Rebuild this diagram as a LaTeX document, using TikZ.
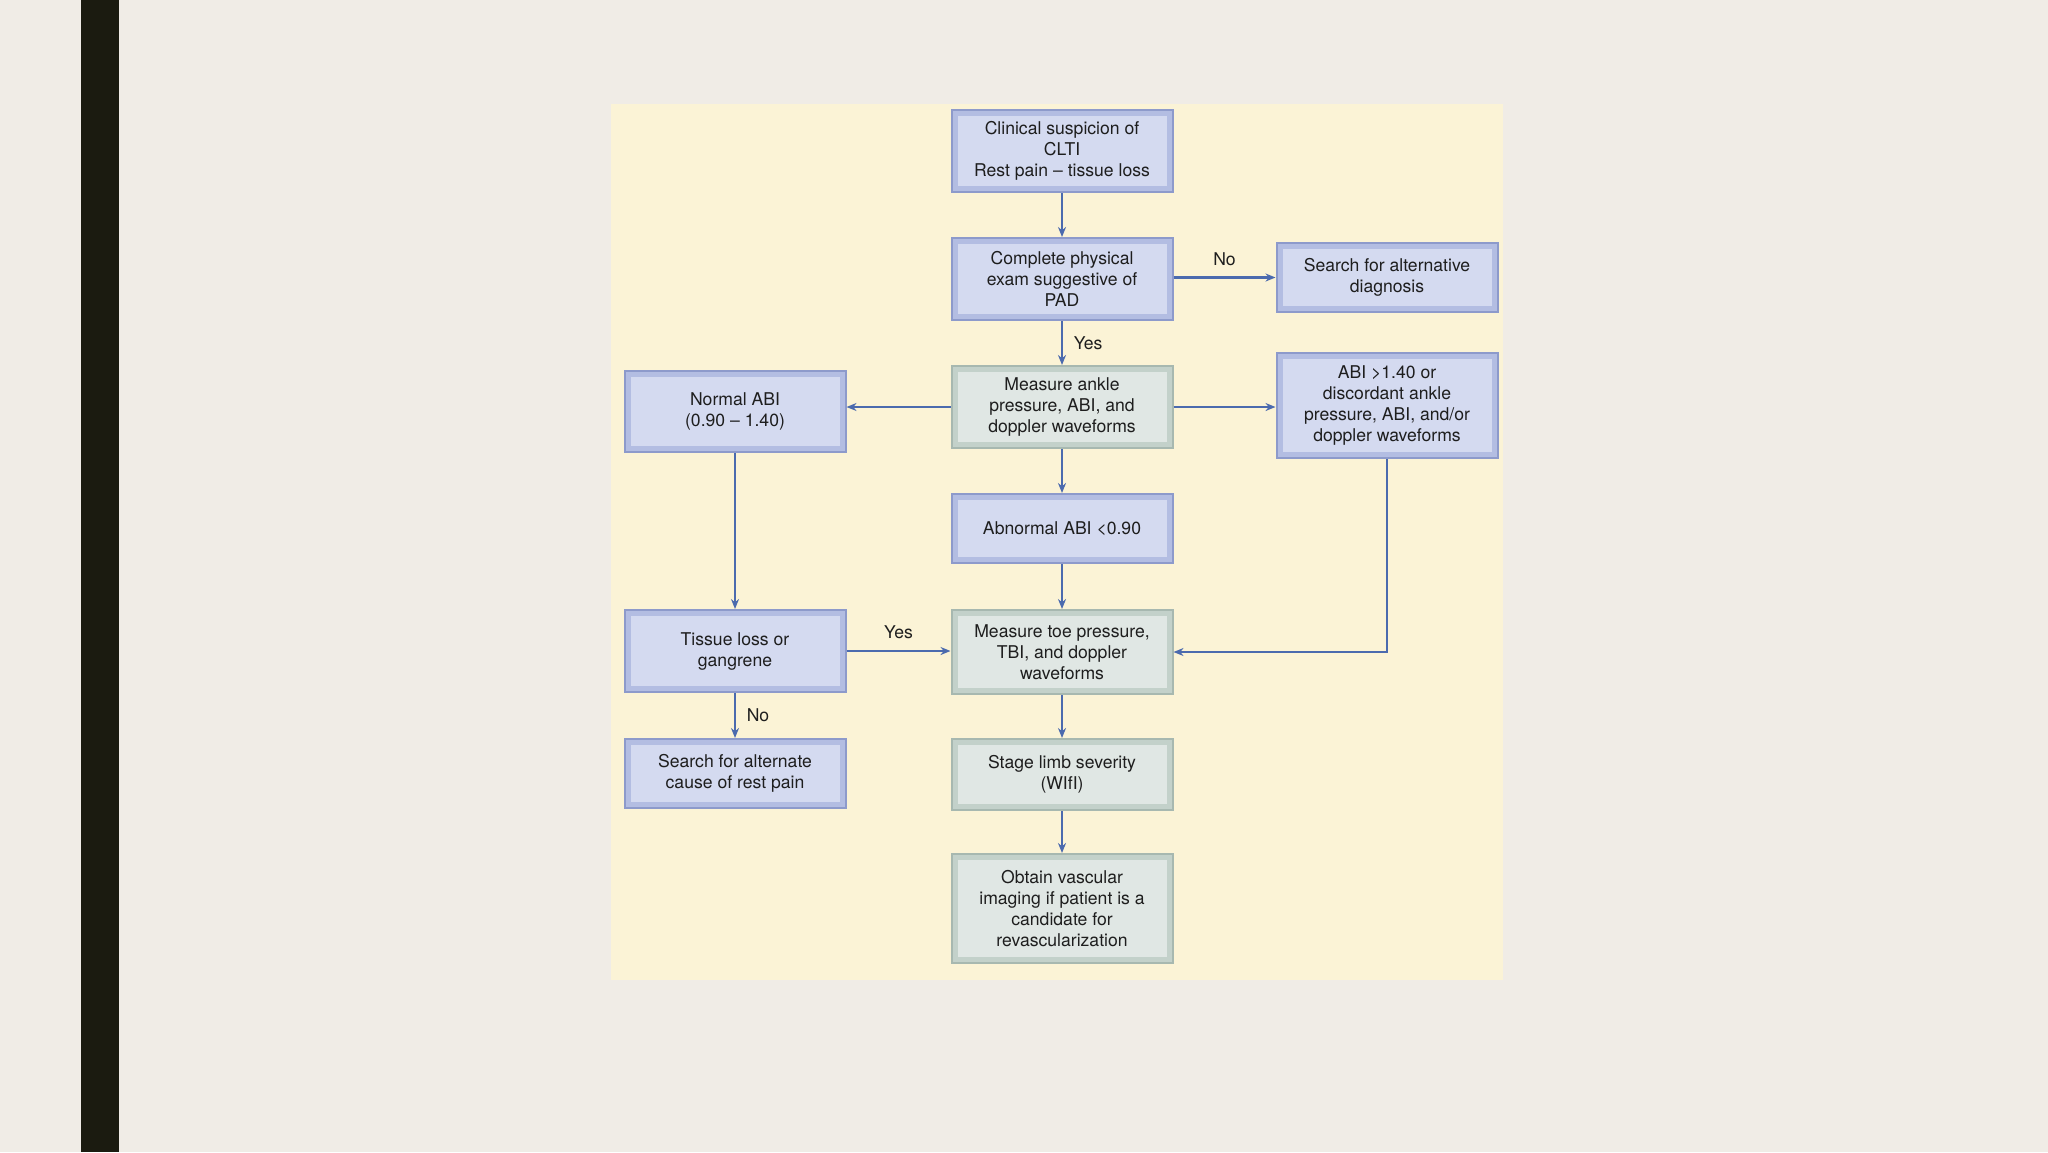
\documentclass[tikz,border=0pt]{standalone}
\usepackage{fontspec}
\setmainfont{TeX Gyre Heros}
\usetikzlibrary{arrows.meta}

\definecolor{pagebg}{HTML}{F0ECE6}
\definecolor{barcol}{HTML}{1B1B10}
\definecolor{panel}{HTML}{FBF3D6}
\definecolor{bluefill}{HTML}{D4DAF0}
\definecolor{blueside}{HTML}{B3BDE2}
\definecolor{blueedge}{HTML}{8D9ACB}
\definecolor{greyfill}{HTML}{E0E7E4}
\definecolor{greyside}{HTML}{C3D1CA}
\definecolor{greyedge}{HTML}{A7B8B0}
\definecolor{linkcol}{HTML}{4B6AAE}
\definecolor{txtcol}{HTML}{1E1E1E}

\newcommand*{\colL}{735}
\newcommand*{\colM}{1062}
\newcommand*{\colR}{1387}

\tikzset{
	box/.style={line width=1pt, minimum width=110.5pt, align=center,
		font=\fontsize{8.8}{10.5}\selectfont, text=txtcol, inner sep=2pt},
	bluebox/.style={box, draw=blueedge, fill=blueside,
		path picture={\fill[bluefill] ([shift={(3pt,-3pt)}]path picture bounding box.north west)
			rectangle ([shift={(-3pt,3pt)}]path picture bounding box.south east);}},
	greybox/.style={box, draw=greyedge, fill=greyside,
		path picture={\fill[greyfill] ([shift={(3pt,-3pt)}]path picture bounding box.north west)
			rectangle ([shift={(-3pt,3pt)}]path picture bounding box.south east);}},
	link/.style={draw=linkcol, line width=1.1pt, -{Stealth[length=5pt,width=4pt]}},
	answer/.style={font=\fontsize{8.8}{10.5}\selectfont, text=txtcol}
}

\begin{document}
\begin{tikzpicture}[x=0.5pt,y=-0.5pt]
	\useasboundingbox (0,0) rectangle (2048,1152);
	\fill[pagebg] (0,0) rectangle (2048,1152);
	\fill[barcol] (81,0) rectangle (119,1152);
	\fill[panel] (611,104) rectangle (1503,980);
	
	% centre column
	\node[bluebox, minimum height=41pt] (suspicion) at (\colM,151) {Clinical suspicion of\\CLTI\\Rest pain -- tissue loss};
	\node[bluebox, minimum height=41pt] (exam) at (\colM,279) {Complete physical\\exam suggestive of\\PAD};
	\node[greybox, minimum height=41pt] (ankle) at (\colM,407) {Measure ankle\\pressure, ABI, and\\doppler waveforms};
	\node[bluebox, minimum height=34.5pt] (abnormal) at (\colM,528.5) {Abnormal ABI <0.90};
	\node[greybox, minimum height=42pt] (toe) at (\colM,652) {Measure toe pressure,\\TBI, and doppler\\waveforms};
	\node[greybox, minimum height=35.5pt] (stage) at (\colM,774.5) {Stage limb severity\\(WIfI)};
	\node[greybox, minimum height=54.5pt] (imaging) at (\colM,908.5) {Obtain vascular\\imaging if patient is a\\candidate for\\revascularization};
	
	% left column
	\node[bluebox, minimum height=40.5pt] (normal) at (\colL,411.5) {Normal ABI\\(0.90 -- 1.40)};
	\node[bluebox, minimum height=41pt] (tissue) at (\colL,651) {Tissue loss or\\gangrene};
	\node[bluebox, minimum height=34.5pt] (restpain) at (\colL,773.5) {Search for alternate\\cause of rest pain};
	
	% right column
	\node[bluebox, minimum height=34.5pt] (altdiag) at (\colR,277.5) {Search for alternative\\diagnosis};
	\node[bluebox, minimum height=52.5pt] (discord) at (\colR,405.5) {ABI >1.40 or\\discordant ankle\\pressure, ABI, and/or\\doppler waveforms};
	
	\draw[link] (suspicion) -- (exam);
	\draw[link] (exam) -- node[answer, right=2pt] {Yes} (ankle);
	\draw[link] (exam.east |- altdiag) -- node[answer, above=2pt] {No} (altdiag);
	\draw[link] (ankle) -- (ankle -| normal.east);
	\draw[link] (ankle) -- (ankle -| discord.west);
	\draw[link] (ankle) -- (abnormal);
	\draw[link] (abnormal) -- (toe);
	\draw[link] (normal) -- (tissue);
	\draw[link] (tissue) -- node[answer, above=2pt] {Yes} (tissue -| toe.west);
	\draw[link] (tissue) -- node[answer, right=2pt] {No} (restpain.north -| tissue);
	\draw[link] (discord) |- (toe);
	\draw[link] (toe) -- (stage);
	\draw[link] (stage) -- (imaging);
\end{tikzpicture}
\end{document}
